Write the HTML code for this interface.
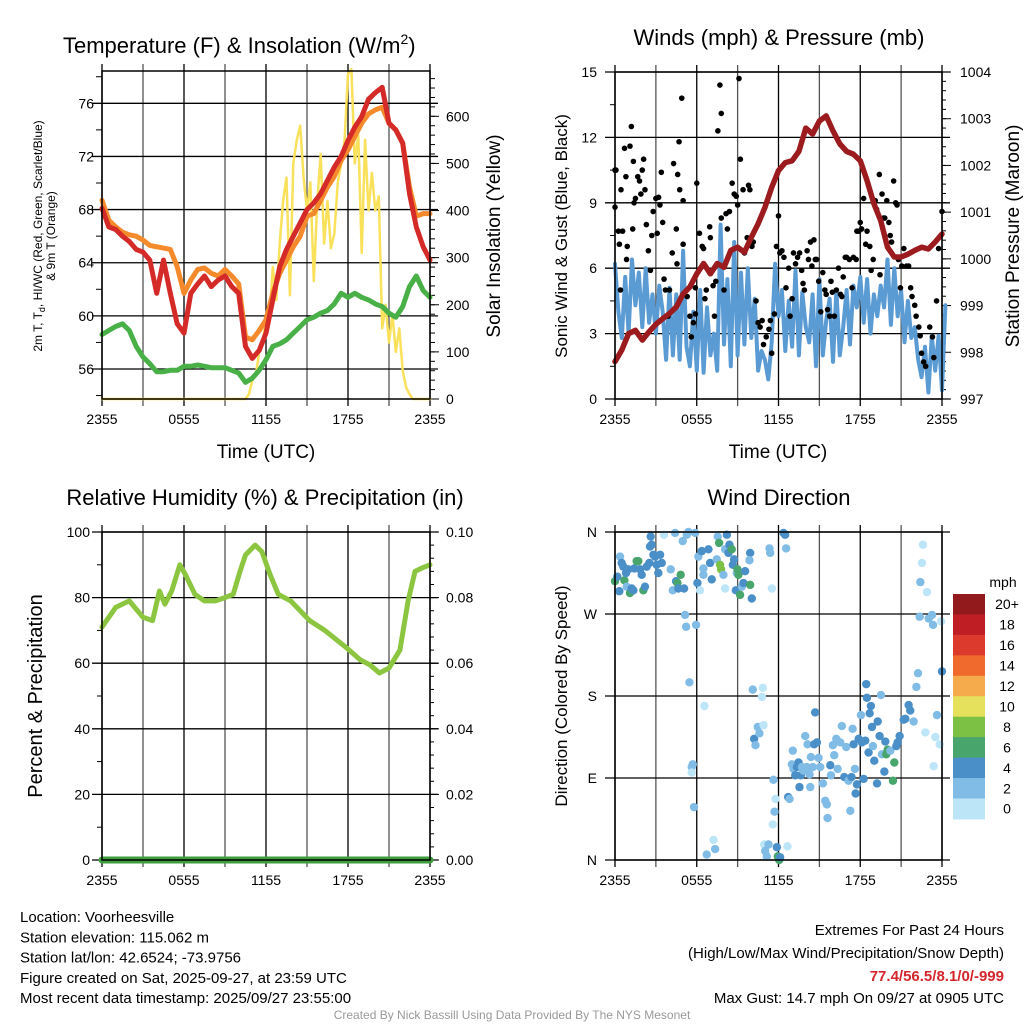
<!DOCTYPE html>
<html><head><meta charset="utf-8"><style>
html,body{margin:0;padding:0;background:#fff}
svg{display:block;font-family:"Liberation Sans",sans-serif}
</style></head><body>
<svg id="c" width="1024" height="1024" xmlns="http://www.w3.org/2000/svg"></svg>
<script>
// ---- Temperature panel data (every 0.5 h from 2355) ----
const tempT=[68.1,66.7,66.5,66.0,65.6,65.0,64.8,64.2,61.7,64.2,61.7,59.4,58.7,61.7,62.4,63.0,62.2,62.7,63.0,62.2,61.7,57.7,56.8,57.4,58.7,61.2,63.7,65.0,66.0,67.0,68.0,68.5,69.2,70.2,71.2,72.0,73.2,74.2,75.0,76.3,76.8,77.2,74.5,74.0,73.0,69.2,66.7,65.2,64.2];
const temp9m=[68.7,67.2,66.7,66.3,66.1,66.0,65.7,65.3,65.2,65.1,65.0,63.7,61.7,62.7,63.5,63.6,63.2,63.0,63.5,63.0,62.4,58.4,58.2,58.9,59.7,61.7,63.2,64.2,65.2,66.0,67.5,67.7,68.7,69.7,70.5,71.7,72.5,73.5,74.5,75.2,75.5,75.7,74.5,74.0,73.0,69.7,67.5,67.7,67.7];
const dewT=[58.6,58.9,59.2,59.4,58.9,57.7,56.9,56.4,55.8,55.8,55.9,55.9,56.2,56.2,56.3,56.2,56.1,56.1,56.1,55.9,55.7,55.0,55.3,55.9,56.7,57.7,57.9,58.2,58.7,59.2,59.7,59.9,60.2,60.4,60.9,61.7,61.4,61.7,61.4,61.2,60.9,60.7,60.2,59.9,60.7,62.2,63.0,61.9,61.4];
const solarHr=[0,10.5,10.75,11,11.25,11.5,11.75,12,12.25,12.5,12.75,13,13.25,13.5,13.75,14,14.25,14.5,14.75,15,15.25,15.5,15.75,16,16.25,16.5,16.75,17,17.25,17.5,17.75,18,18.25,18.5,18.75,19,19.25,19.5,19.75,20,20.25,20.5,20.75,21,21.25,21.5,21.75,22,22.25,22.5,22.75,24];
const solarW=[0,0,10,40,50,100,120,170,170,280,210,330,420,470,220,500,550,580,470,400,460,250,420,520,330,420,320,350,460,500,550,690,700,500,560,310,550,400,480,400,430,150,200,120,180,100,150,60,25,10,0,0];
// ---- Wind/pressure panel data ----
const pressure=[997.8,998.05,998.4,998.47,998.26,998.44,998.6,998.72,998.83,998.97,999.25,999.4,999.68,999.9,999.68,999.9,999.82,1000.18,1000.25,1000.14,1000.46,1000.75,1001.1,1001.53,1001.89,1002.06,1002.1,1002.3,1002.8,1002.67,1002.95,1003.06,1002.74,1002.46,1002.3,1002.24,1002.1,1001.67,1001.18,1000.82,1000.25,1000.04,1000.04,1000.1,1000.18,1000.25,1000.21,1000.36,1000.53];
const windSpd=[6.2,4.0,2.8,5.6,3.0,6.4,4.3,5.8,3.3,6.0,3.5,4.8,3.0,5.2,4.0,1.8,5.1,2.0,4.8,1.8,6.8,2.4,1.5,4.0,1.3,5.0,1.2,4.2,2.0,3.0,1.3,8.0,2.5,5.5,1.5,7.2,2.0,5.8,2.5,6.0,2.8,4.6,1.3,2.2,1.8,0.9,2.6,6.2,3.8,5.0,2.2,4.5,2.4,5.9,2.0,4.9,3.3,2.6,4.8,1.5,5.5,2.0,3.6,4.6,1.7,5.0,2.0,3.3,5.0,2.5,5.2,4.2,5.6,3.5,5.5,3.0,4.8,3.8,5.2,4.2,6.4,3.4,6.0,3.8,5.0,2.6,4.5,2.8,3.3,1.8,1.0,2.4,0.3,2.9,1.3,2.9,0.4,4.3];
const gustHr=[0,0.07,0,0.25,0.56,0.32,0.4,0.44,0.7,0.8,0.9,0.85,1.1,1.2,1.3,1.35,1.4,1.5,1.67,1.8,1.9,2.0,2.1,2.2,2.3,2.45,2.6,2.7,2.8,3.0,3.1,3.2,3.3,3.4,3.5,3.6,3.7,3.9,4.0,4.2,4.3,4.5,4.55,4.6,4.7,4.75,4.9,5.0,5.0,5.3,5.5,5.6,5.75,5.9,6.0,5.9,6.2,6.4,6.5,6.6,6.7,6.95,7.0,7.2,7.3,7.4,7.55,7.7,7.8,7.8,8.0,8.15,8.25,8.4,8.6,8.75,8.9,9.0,9.1,9.2,9.4,9.5,9.7,9.8,9.9,10.05,10.15,10.35,10.5,10.65,10.8,10.9,11.1,11.3,11.4,11.5,11.7,11.85,12.0,12.1,12.25,12.4,12.55,12.75,12.85,13.0,13.1,13.25,13.4,13.55,13.7,13.8,13.9,14.1,14.2,14.35,14.45,14.6,14.7,14.8,14.95,15.1,15.25,15.4,15.5,15.6,15.75,15.85,15.95,16.1,16.25,16.4,16.55,16.65,16.75,16.9,17.0,17.2,17.4,17.5,17.7,17.75,17.9,18.0,18.1,18.25,18.4,18.5,18.7,18.8,18.95,19.1,19.2,19.4,19.45,19.6,19.7,19.8,19.95,20.1,20.2,20.3,20.45,20.6,20.7,20.8,20.95,21.05,21.2,21.4,21.55,21.7,21.8,22.0,22.1,22.3,22.4,22.5,22.65,22.8,23.1,23.3,23.4,23.6,23.75,24];
const gustMph=[10.5,10.5,8.8,7.7,7.7,7.1,5.0,9.6,11.5,10.2,7.0,6.4,11.6,12.5,7.8,10.9,9.0,9.2,10.2,10.0,9.4,10.5,11.0,9.6,8.0,6.8,5.9,7.5,8.6,9.2,7.6,9.25,8.9,10.4,8.1,5.5,5.0,3.8,5.0,6.7,10.8,7.8,6.2,10.3,11.8,9.6,13.8,9.1,7.1,4.7,3.8,2.85,3.5,3.9,9.9,5.1,7.6,7.0,6.9,4.6,5.0,7.9,7.4,5.2,3.8,5.4,12.3,14.4,13.1,8.3,5.0,8.5,7.8,8.6,9.9,9.4,9.3,8.9,14.7,11.0,9.6,6.7,7.4,9.8,9.6,7.0,7.2,4.5,3.5,3.3,3.6,2.5,2.85,3.2,3.6,2.1,3.9,7.0,8.4,6.7,6.8,6.5,5.1,6.0,3.8,4.6,6.7,6.2,6.5,6.7,5.9,5.3,5.0,6.8,6.4,7.2,6.1,7.3,6.4,6.4,5.4,4.0,5.8,5.0,4.8,4.1,3.8,5.4,4.9,3.8,5.0,6.0,4.8,4.7,5.6,6.5,6.5,6.4,5.1,6.5,6.4,7.7,7.7,8.1,7.8,9.2,7.1,7.7,7.0,5.9,6.4,9.1,8.7,10.3,5.7,9.4,8.3,8.3,9.1,8.1,7.5,7.2,10.0,9.0,8.9,6.4,5.1,6.1,6.9,6.1,6.1,5.1,4.7,4.3,3.8,3.3,2.9,2.1,1.7,1.5,3.3,2.85,1.9,4.5,6.9,8.6];
// ---- RH panel data ----
const rhHr=[0,1,2,3,3.7,4.2,4.6,5.1,5.7,6.1,6.8,7.5,8.3,9,9.6,10.1,10.5,11.2,11.7,12.3,12.9,13.8,14.5,15.2,16.3,17.8,18.9,19.6,20.3,21,21.8,22.4,22.9,23.4,24];
const rhPct=[71,77,79,74,73,82,78,82,90,87,81,79,79,80,81,88,93,96,94,87,81,79,76,73,70,65,61,59.5,57,58.5,64,79,88,89,90];
const precipHr=[0,24];
const precipIn=[0,0];
// ---- Wind direction panel data ----
const dirHr=[0.0,0.17,0.32,0.37,0.49,0.61,0.69,0.81,0.86,0.98,1.10,1.22,1.35,1.42,1.59,1.71,1.84,1.96,2.08,2.20,2.33,2.52,2.57,2.62,2.69,2.82,2.94,3.06,3.18,3.31,3.43,3.60,4.09,4.24,4.41,4.48,4.58,4.65,4.82,4.97,5.07,5.14,5.22,5.27,5.39,5.46,5.63,5.71,5.63,5.80,5.88,5.95,6.05,6.12,6.24,6.37,6.49,6.49,6.56,6.73,6.86,6.98,7.10,7.23,7.35,7.47,7.54,7.64,7.71,7.79,7.96,8.08,8.08,8.21,8.33,8.40,8.57,8.65,8.74,8.87,8.94,8.99,9.06,9.18,9.31,9.43,9.55,9.92,9.92,10.04,9.87,10.11,10.21,10.31,10.48,10.60,10.78,10.85,10.90,10.95,11.02,11.14,11.27,11.34,11.39,11.51,11.58,11.63,11.71,11.78,11.88,11.95,12.05,12.12,12.37,12.49,12.56,12.66,12.71,12.81,12.98,13.05,13.10,13.23,13.35,13.47,13.54,13.64,13.72,13.84,13.96,14.08,14.13,14.28,14.33,14.38,14.52,14.62,14.69,14.82,14.94,15.06,15.26,15.43,15.55,15.60,15.80,15.85,15.99,16.09,16.24,16.34,16.53,16.65,16.83,16.97,17.14,17.27,17.36,17.44,17.51,17.61,17.66,17.76,17.88,18.05,18.12,18.25,18.37,18.44,18.49,18.61,18.69,18.78,18.86,18.93,19.03,19.23,19.28,19.42,19.52,19.59,19.77,19.84,19.91,20.01,20.21,20.40,20.50,20.65,20.74,20.89,21.19,21.31,21.55,21.67,21.92,22.12,22.24,22.36,22.41,22.53,22.60,22.78,22.90,23.02,23.27,23.34,23.39,23.51,23.63,23.83,23.93,24.0];
const dirDeg=[306,311,295,333,326,322,307,315,300,319,293,298,296,320,328,328,319,313,296,300,322,326,344,355,346,335,333,324,315,335,326,357,319,296,359,306,304,298,313,350,298,269,256,357,360,195,102,105,96,58,359,258,304,333,296,339,313,320,169,6,341,326,308,22,12,330,355,348,324,319,313,298,341,357,337,346,341,324,330,296,315,319,313,291,300,304,317,302,337,287,329,187,133,126,146,139,179,189,148,17,10,4,17,342,337,298,39,88,53,67,14,4,0,3,359,357,342,15,69,67,105,120,100,93,102,107,80,93,102,98,136,102,127,94,80,113,102,127,162,129,112,102,84,65,61,46,104,93,126,115,133,100,129,147,91,124,87,54,91,144,127,100,73,83,133,159,129,89,131,193,178,118,161,169,146,125,109,84,152,136,181,116,97,130,116,121,120,87,107,125,129,136,154,155,170,164,152,190,205,267,305,326,346,140,294,265,269,258,103,135,159,127,262,207];
const dirSpd=[7,5,5,3,5,5,7,5,3,5,7,5,5,5,7,7,5,5,7,5,5,5,5,5,5,5,5,5,5,5,5,1,3,3,3,5,7,5,7,3,5,3,3,3,3,3,3,3,1,3,3,3,5,3,1,5,3,3,1,3,5,5,5,1,3,3,3,7,9,9,3,1,3,5,5,5,7,5,5,5,3,7,7,7,3,5,5,7,5,5,3,3,5,3,3,3,1,1,1,1,3,3,3,3,3,1,1,3,3,1,5,7,7,5,5,5,3,1,5,3,3,3,3,5,5,5,5,5,3,3,3,3,3,3,3,3,3,5,5,5,3,3,3,3,3,3,5,3,3,3,3,3,3,3,5,3,3,3,5,3,5,3,5,5,5,3,5,5,5,5,5,5,5,5,5,3,5,5,5,5,3,3,5,5,7,7,3,7,7,5,5,5,5,5,5,5,3,3,3,3,3,1,1,1,1,3,3,3,1,1,3,1,1,5];
const cbarLabels=["20+","18","16","14","12","10","8","6","4","2","0"];
const cbarColors=["#921a1c","#bf1e24","#dc3a2c","#ef6a2c","#f5aa4c","#e6e15c","#7cc044","#48a56c","#4a8fc8","#80bce6","#bde5f8"];

const NS="http://www.w3.org/2000/svg";
const svg=document.getElementById('c');
function mk(tag,attrs,parent){const e=document.createElementNS(NS,tag);for(const k in attrs)e.setAttribute(k,attrs[k]);(parent||svg).appendChild(e);return e;}
function txt(s,x,y,size,anchor,parent,extra){const e=mk('text',Object.assign({x:x,y:y,'font-size':size,'text-anchor':anchor||'start',fill:'#000'},extra||{}),parent);e.textContent=s;return e;}
function scale(d0,d1,r0,r1){return v=>r0+(v-d0)*(r1-r0)/(d1-d0);}

function frame(p,name){
  const g=mk('g',{});
  
  
  // vertical grid every 3 h
  for(let h=0;h<=24;h+=3){const x=p.x(h);
    const l=mk('line',{x1:x,x2:x,y1:p.y0-7,y2:p.y1+7,stroke:(h%6==0)?'#000':'#555','stroke-width':1.3},g);
    }
  const labs=["2355","0555","1155","1755","2355"];
  for(let i=0;i<5;i++){const t=txt(labs[i],p.x(i*6),p.y1+25,14,'middle',g);
    }
  return g;
}
function hgrid(g,p,vals,yf,labels,lx,anchor){
  vals.forEach((v,i)=>{const y=yf(v);
    const l=mk('line',{x1:p.x0-10,x2:p.x1+8,y1:y,y2:y,stroke:'#000','stroke-width':1.3},g);
    
    if(labels){const t=txt(labels[i],lx,y+5,14,anchor,g);}
  });
}
function poly(pts,color,w,g,name){const e=mk('polyline',{points:pts.map(p=>p[0].toFixed(1)+','+p[1].toFixed(1)).join(' '),fill:'none',stroke:color,'stroke-width':w,'stroke-linejoin':'round','stroke-linecap':'round'},g);
  return e;}
function border(g,p){const r=mk('rect',{x:p.x0,y:p.y0,width:p.x1-p.x0,height:p.y1-p.y0,fill:'none',stroke:'#000','stroke-width':1.5},g);}
function rtick(g,p,vals,yf,len){vals.forEach(v=>{const y=yf(v);mk('line',{x1:p.x1,x2:p.x1+len,y1:y,y2:y,stroke:'#000','stroke-width':1},g);});}
function ltick(g,p,vals,yf,len){vals.forEach(v=>{const y=yf(v);mk('line',{x1:p.x0-len,x2:p.x0,y1:y,y2:y,stroke:'#000','stroke-width':1},g);});}
function vlabel(s,x,y,size,g,name){const t=txt(s,x,y,size,'middle',g,{transform:'rotate(-90 '+x+' '+y+')'});return t;}

// ===== Panel 1 =====
{const p={x0:102,x1:430,y0:71,y1:399};p.x=scale(0,24,p.x0,p.x1);
 const yT=scale(56,76,369,103.3), yW=scale(0,600,399,116.3);
 const g=frame(p,'temperature-panel');
 hgrid(g,p,[56,60,64,68,72,76],yT,["56","60","64","68","72","76"],94,'end');
 ltick(g,p,[54,58,62,66,70,74,78],yT,6);
 const rt=[];for(let w=0;w<=690;w+=20)rt.push(w);rtick(g,p,rt,yW,5);
 rtick(g,p,[0,100,200,300,400,500,600],yW,9);
 [0,100,200,300,400,500,600].forEach(w=>{const t=txt(String(w),446,yW(w)+5,14,'start',g);});
 poly(solarHr.map((h,i)=>[p.x(h),yW(solarW[i])]),'#f9e15c',2.5,g,'solar-line');
 poly(dewT.map((v,i)=>[p.x(i*0.5),yT(v)]),'#48b047',5,g,'dewpoint-line');
 poly(temp9m.map((v,i)=>[p.x(i*0.5),yT(v)]),'#f58a2c',5,g,'temp-9m-line');
 poly(tempT.map((v,i)=>[p.x(i*0.5),yT(v)]),'#d42a28',5,g,'temp-2m-line');
 border(g,p);
 const tt=txt('Temperature (F) & Insolation (W/m',63,53,22,'start',g);const sup=mk('tspan',{dy:-9,'font-size':14},tt);sup.textContent='2';const cl=mk('tspan',{dy:9},tt);cl.textContent=')';
 
 const xl=txt('Time (UTC)',266,458,19,'middle',g);
 const yl=mk('text',{transform:'rotate(-90 51 236)',x:51,y:236,'font-size':12,'text-anchor':'middle'},g);
 
 const a=mk('tspan',{x:51,dy:-9},yl);a.textContent='2m T, T';const s1=mk('tspan',{'font-size':9,dy:3},yl);s1.textContent='d';const a2=mk('tspan',{dy:-3},yl);a2.textContent=', HI/WC (Red, Green, Scarlet/Blue)';
 const b=mk('tspan',{x:51,dy:13},yl);b.textContent='& 9m T (Orange)';
 vlabel('Solar Insolation (Yellow)',500,236,19,g,'right-axis-title');
}
// ===== Panel 2 =====
{const p={x0:615,x1:942,y0:72,y1:399};p.x=scale(0,24,p.x0,p.x1);
 const yS=scale(0,15,399,72), yP=scale(997,1004,399,72);
 const g=frame(p,'winds-panel');
 hgrid(g,p,[0,3,6,9,12,15],yS,["0","3","6","9","12","15"],597,'end');
 ltick(g,p,[1.5,4.5,7.5,10.5,13.5],yS,5);
 const rt=[];for(let v=997;v<=1004.001;v+=0.2)rt.push(v);rtick(g,p,rt,yP,4);
 rtick(g,p,[997,998,999,1000,1001,1002,1003,1004],yP,9);
 [997,998,999,1000,1001,1002,1003,1004].forEach(v=>{const t=txt(String(v),960,yP(v)+5,14,'start',g);});
 poly(windSpd.map((v,i)=>[p.x(i*0.25),yS(v)]),'#5b9bd3',4,g,'sonic-wind-line');
 gustHr.forEach((h,i)=>{const c=mk('circle',{cx:p.x(h),cy:yS(gustMph[i]),r:2.8,fill:'#000'},g);
   
   });
 poly(pressure.map((v,i)=>[p.x(i*0.5),yP(v)]),'#9b1b1e',5.5,g,'pressure-line');
 border(g,p);
 const tt=txt('Winds (mph) & Pressure (mb)',779,45,22,'middle',g);
 const xl=txt('Time (UTC)',778,458,19,'middle',g);
 vlabel('Sonic Wind & Gust (Blue, Black)',567,236,17,g,'y-axis-title');
 vlabel('Station Pressure (Maroon)',1019,236,19,g,'right-axis-title');
}
// ===== Panel 3 =====
{const p={x0:102,x1:430,y0:532,y1:860};p.x=scale(0,24,p.x0,p.x1);
 const yR=scale(0,100,860,532), yI=scale(0,0.1,860,532);
 const g=frame(p,'humidity-panel');
 hgrid(g,p,[0,20,40,60,80,100],yR,["0","20","40","60","80","100"],90,'end');
 ltick(g,p,[10,30,50,70,90],yR,5);
 const rt=[];for(let v=0;v<=100;v+=4)rt.push(v);rtick(g,p,rt,yR,4);
 rtick(g,p,[0,20,40,60,80,100],yR,9);
 ["0.00","0.02","0.04","0.06","0.08","0.10"].forEach((s,i)=>{const t=txt(s,446,yI(i*0.02)+5,14,'start',g);});
 poly(rhHr.map((h,i)=>[p.x(h),yR(rhPct[i])]),'#8cc640',5,g,'rh-line');
 poly(precipHr.map((h,i)=>[p.x(h),yI(precipIn[i])]),'#3e9e3e',7,g,'precip-line');
 border(g,p);
 const tt=txt('Relative Humidity (%) & Precipitation (in)',265,505,22,'middle',g);
 vlabel('Percent & Precipitation',42,696,20,g,'y-axis-title');
}
// ===== Panel 4 =====
{const p={x0:615,x1:942,y0:532,y1:860};p.x=scale(0,24,p.x0,p.x1);
 const yD=scale(0,360,860,532);
 const g=frame(p,'wind-direction-panel');
 hgrid(g,p,[0,90,180,270,360],yD,["N","E","S","W","N"],597,'end');
 dirHr.forEach((h,i)=>{const s=dirSpd[i];const bin=Math.min(10,Math.floor(s/2));
   const c=mk('circle',{cx:p.x(h),cy:yD(dirDeg[i]),r:4.2,fill:cbarColors[10-bin]},g);
   
   });
 border(g,p);
 const tt=txt('Wind Direction',779,505,22,'middle',g);
 vlabel('Direction (Colored By Speed)',567,696,17,g,'y-axis-title');
 const cb=mk('g',{},svg);
 const h=20.45;
 cbarColors.forEach((col,i)=>{mk('rect',{x:953,y:594+i*h,width:32,height:h+0.5,fill:col},cb);
   const t=txt(cbarLabels[i],1007,594+i*h+h/2+5,14,'middle',cb);});
 const m=txt('mph',1003,587,14,'middle',cb);
}
// ===== Footer =====
{const g=mk('g',{});
 ["Location: Voorheesville","Station elevation: 115.062 m","Station lat/lon: 42.6524; -73.9756","Figure created on Sat, 2025-09-27, at 23:59 UTC","Most recent data timestamp: 2025/09/27 23:55:00"].forEach((s,i)=>txt(s,20,922+i*20.3,15,'start',g));
 const g2=mk('g',{});
 txt('Extremes For Past 24 Hours',1004,935,15,'end',g2);
 txt('(High/Low/Max Wind/Precipitation/Snow Depth)',1004,958,15,'end',g2);
 txt('77.4/56.5/8.1/0/-999',1004,981,15,'end',g2,{fill:'#d4262c','font-weight':'bold'});
 txt('Max Gust: 14.7 mph On 09/27 at 0905 UTC',1004,1003,15,'end',g2);
 const cr=txt('Created By Nick Bassill Using Data Provided By The NYS Mesonet',512,1019,12,'middle',svg,{fill:'#999'});
 
}
</script>
</body></html>
